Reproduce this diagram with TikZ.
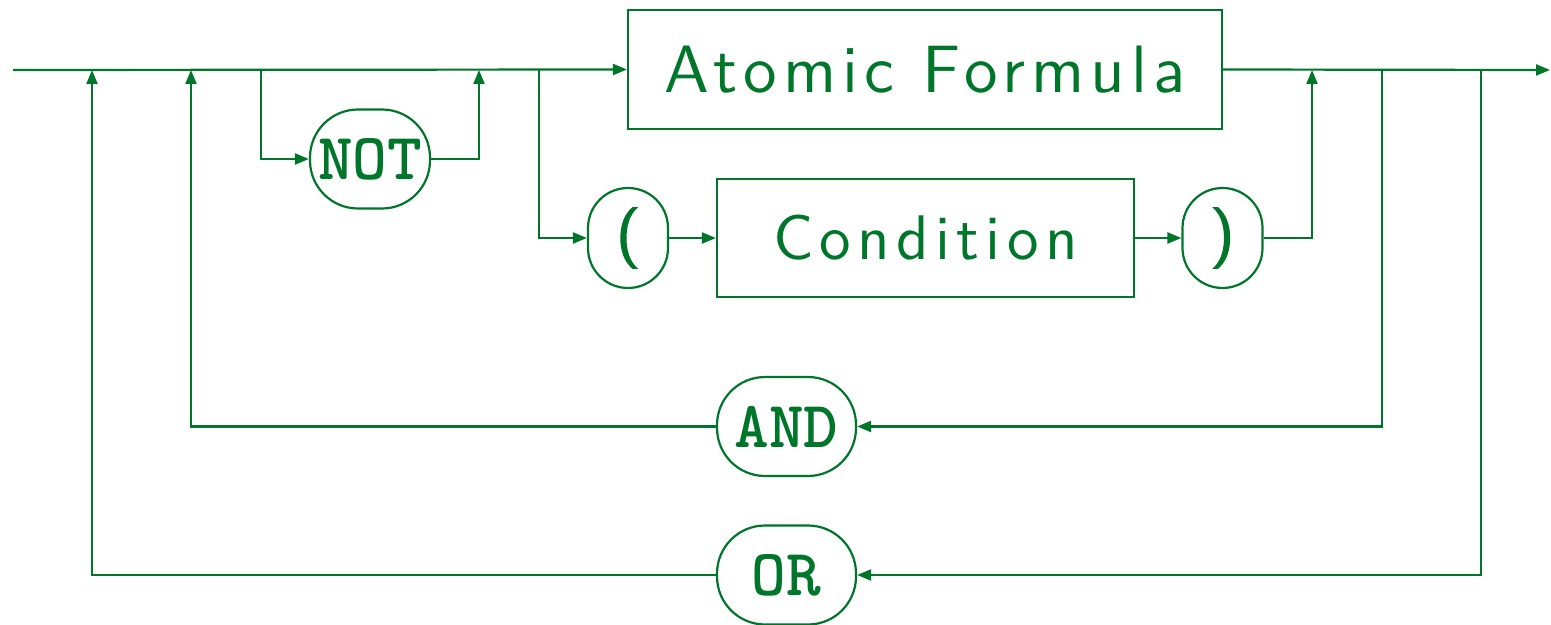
\documentclass[tikz,border=0pt]{standalone}
\usepackage{fontspec}
\usetikzlibrary{arrows.meta}
\definecolor{syn}{RGB}{0,118,42}
\newfontfamily\atomfont[LetterSpace=9]{lmsans10-regular.otf}
\newfontfamily\condfont[LetterSpace=10]{lmsans10-regular.otf}
\newfontfamily\parenfont[FakeBold=2.5]{lmsans10-regular.otf}
\begin{document}
\begin{tikzpicture}[x=0.5pt,y=-0.5pt,
  line width=1.1pt, draw=syn, text=syn,
  flow/.style={-{Triangle[length=7pt,width=5.5pt]}},
  nonterm/.style={draw, inner sep=0pt},
  term/.style={draw, inner sep=0pt, rounded corners=24pt, minimum height=49.5pt,
    font=\ttfamily\bfseries\fontsize{33}{36}\selectfont},
  paren/.style={draw, inner sep=0pt, rounded corners=20pt, minimum width=40pt, minimum height=50pt,
    font=\parenfont\fontsize{30}{32}\selectfont}]
\useasboundingbox (0,0) rectangle (1551,625);

% boxes of the rule
\node[nonterm, minimum width=297pt, minimum height=59.5pt, font=\atomfont\fontsize{33.5}{36}\selectfont] (atom) at (925,69.5) {Atomic Formula};
\node[nonterm, minimum width=208.5pt, minimum height=59pt, font=\condfont\fontsize{31.5}{36}\selectfont] (cond) at (925.5,238) {Condition};
\node[term, minimum width=60pt] (not) at (370,159) {NOT};
\node[paren] (lp) at (628,238) {(};
\node[paren] (rp) at (1222.5,238) {)};
\node[term, minimum width=69.5pt] (and) at (786.5,426.5) {AND};
\node[term, minimum width=69.5pt] (or) at (786.5,575) {OR};

% junctions on the main line
\coordinate (start) at (13,70);
\coordinate (stop) at (1550,70);
\coordinate (jor) at (92,70);
\coordinate (jand) at (191,70);
\coordinate (jnotin) at (261,70);
\coordinate (jnotout) at (479,70);
\coordinate (jpin) at (539,70);
\coordinate (jpout) at (1312,70);
\coordinate (jandout) at (1382,70);
\coordinate (jorout) at (1481,70);

% main line
\draw[flow] (start) -- (atom.west);
\draw[flow] (atom.east) -- (stop);

% optional NOT
\draw[flow] (jnotin) |- (not.west);
\draw[flow] (not.east) -| (jnotout);

% parenthesised condition
\draw[flow] (jpin) |- (lp.west);
\draw[flow] (lp.east) -- (cond.west);
\draw[flow] (cond.east) -- (rp.west);
\draw[flow] (rp.east) -| (jpout);

% AND / OR loops
\draw[flow] (jandout) |- (and.east);
\draw[flow] (and.west) -| (jand);
\draw[flow] (jorout) |- (or.east);
\draw[flow] (or.west) -| (jor);
\end{tikzpicture}
\end{document}
